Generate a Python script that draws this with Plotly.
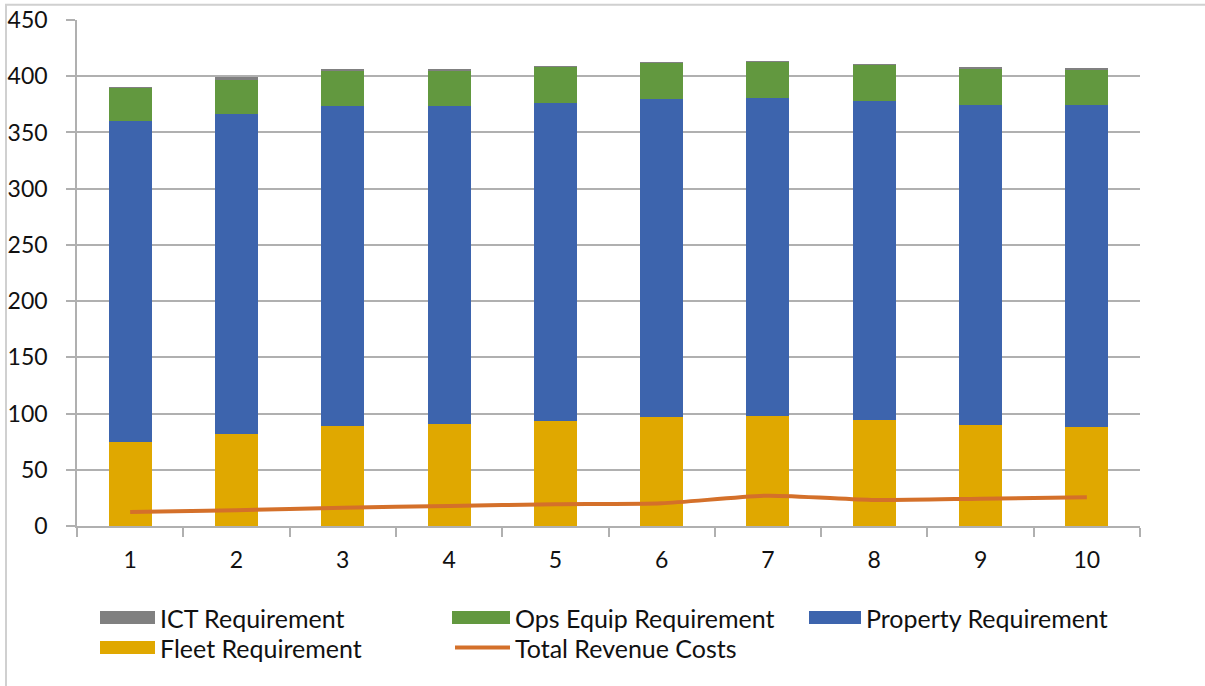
import plotly.graph_objects as go

# Yearly requirement breakdown (stacked) and total revenue costs
years = ["1", "2", "3", "4", "5", "6", "7", "8", "9", "10"]
fleet = [74.5, 82.0, 89.0, 90.5, 93.5, 97.0, 97.5, 94.5, 90.0, 88.0]
property_req = [285.7, 284.7, 284.8, 283.3, 283.0, 282.7, 282.9, 283.8, 284.7, 286.1]
ops_equip = [29.6, 30.8, 31.5, 31.5, 32.0, 32.1, 32.3, 32.0, 32.3, 32.3]
ict = [0.5, 1.5, 0.5, 1.0, 0.2, 0.2, 0.8, 0.2, 0.6, 0.3]
revenue_costs = [12.4, 14.0, 16.3, 17.8, 19.3, 20.2, 27.0, 23.1, 24.3, 25.5]

y_ticks = [0, 50, 100, 150, 200, 250, 300, 350, 400, 450]

C_FLEET = "#E0A800"
C_PROP = "#3D64AD"
C_OPS = "#62983F"
C_ICT = "#808080"
C_LINE = "#D4702A"
FONT = "Lato"
GRID = "#B0B0B0"

fig = go.Figure()
for name, vals, col in [
    ("Fleet Requirement", fleet, C_FLEET),
    ("Property Requirement", property_req, C_PROP),
    ("Ops Equip Requirement", ops_equip, C_OPS),
    ("ICT Requirement", ict, C_ICT),
]:
    fig.add_trace(go.Bar(x=years, y=vals, name=name, marker_color=col,
                         marker_line_width=0, showlegend=False))

fig.add_trace(go.Scatter(x=years, y=revenue_costs, name="Total Revenue Costs",
                         mode="lines", line=dict(color=C_LINE, width=4, shape="spline", smoothing=0.6),
                         showlegend=False))

# Legend drawn as wide swatches in three columns
PX0, PW = 77, 1063
PY0, PH = 526.5, 506.2


def px(x):
    return (x - PX0) / PW


def py(y):
    return (PY0 - y) / PH


legend_items = [
    ("ICT Requirement", C_ICT, "bar", 100, 155, 618),
    ("Ops Equip Requirement", C_OPS, "bar", 452, 510, 618),
    ("Property Requirement", C_PROP, "bar", 809, 861, 618),
    ("Fleet Requirement", C_FLEET, "bar", 100, 155, 648),
    ("Total Revenue Costs", C_LINE, "line", 455, 510, 648),
]
shapes = []
annotations = []
for label, col, kind, x0, x1, yc in legend_items:
    if kind == "bar":
        shapes.append(dict(type="rect", xref="paper", yref="paper",
                           x0=px(x0), x1=px(x1), y0=py(yc + 6.5), y1=py(yc - 6.5),
                           fillcolor=col, line_width=0))
    else:
        shapes.append(dict(type="line", xref="paper", yref="paper",
                           x0=px(x0), x1=px(x1), y0=py(yc), y1=py(yc),
                           line=dict(color=col, width=4)))
    annotations.append(dict(text=label, xref="paper", yref="paper",
                            x=px(x1 + 3), y=py(yc + 1), xanchor="left", yanchor="middle",
                            showarrow=False, font=dict(family=FONT, size=25, color="#111111")))

# Outer frame of the chart
shapes.append(dict(type="rect", xref="paper", yref="paper",
                   x0=px(6), x1=px(1260), y0=py(720), y1=py(5),
                   line=dict(color="#D0D0D0", width=2), fillcolor="rgba(0,0,0,0)", layer="below"))

fig.update_layout(
    width=1205, height=686,
    margin=dict(l=77, r=65, t=20, b=159.5, autoexpand=False),
    barmode="stack", bargap=0.595,
    paper_bgcolor="white", plot_bgcolor="white",
    font=dict(family=FONT, size=23, color="#111111"),
    shapes=shapes, annotations=annotations,
)
fig.update_xaxes(type="category", showline=True, linecolor=GRID, linewidth=1.5, automargin=False,
                 ticks="outside", tickson="boundaries", ticklen=9, tickcolor=GRID, tickwidth=1.5,
                 ticklabelstandoff=13, tickfont=dict(family=FONT, size=23, color="#111111"))
fig.update_yaxes(range=[0, 450], tickvals=y_ticks, showgrid=True, gridcolor=GRID, gridwidth=1.5,
                 showline=True, linecolor=GRID, linewidth=1.5, zeroline=False, automargin=False,
                 ticks="outside", ticklen=9, tickcolor=GRID, tickwidth=1.5,
                 ticklabelstandoff=14, tickfont=dict(family=FONT, size=23, color="#111111"))

fig.write_html("out.html")
